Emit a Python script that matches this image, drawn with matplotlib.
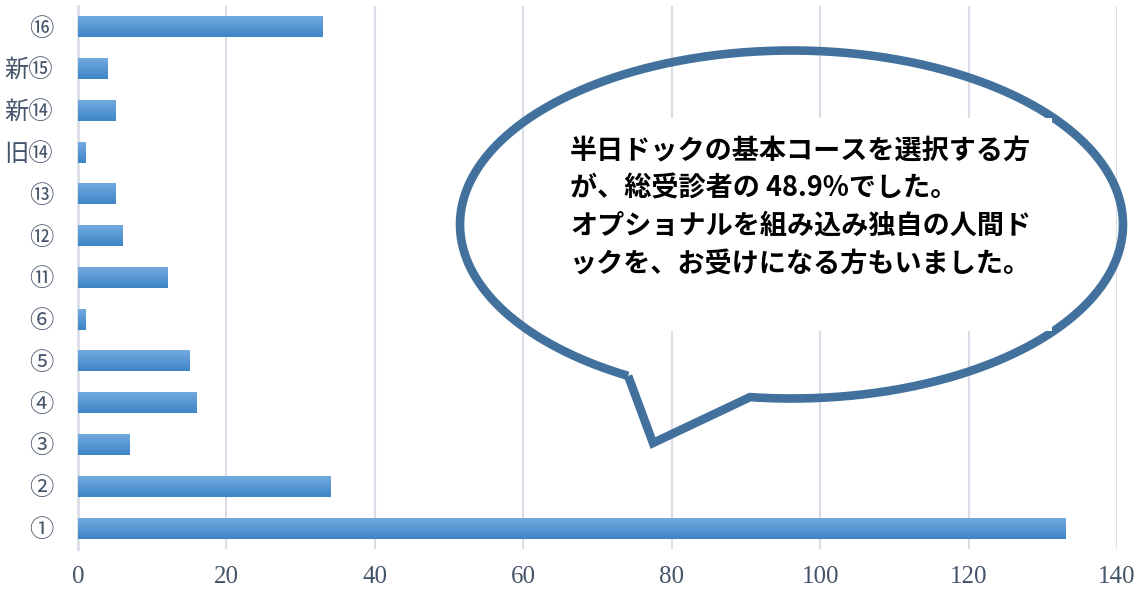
import matplotlib
matplotlib.use("Agg")
import matplotlib.pyplot as plt
import numpy as np
from matplotlib.patches import Rectangle
from matplotlib.colors import LinearSegmentedColormap

# ---- data ----
categories = ["①", "②", "③", "④", "⑤", "⑥", "⑪", "⑫", "⑬", "旧⑭", "新⑭", "新⑮", "⑯"]
values = [133, 34, 7, 16, 15, 1, 12, 6, 5, 1, 5, 4, 33]
xticks = [0, 20, 40, 60, 80, 100, 120, 140]
bubble_lines = [
    "半日ドックの基本コースを選択する方",
    "が、総受診者の 48.9%でした。",
    "オプショナルを組み込み独自の人間ド",
    "ックを、お受けになる方もいました。",
]

W, H = 1147, 593
fig = plt.figure(figsize=(W / 100, H / 100), dpi=100)
ax = fig.add_axes([78 / W, 1 - 549 / H, (1117 - 78) / W, (549 - 6) / H])

tick_color = "#44546A"
grid_color = "#D9DEE6"
label_font = ["Liberation Serif", "Noto Sans CJK JP", "DejaVu Sans"]

y = np.arange(len(categories))
bar_h = 0.5
ax.barh(y, values, height=bar_h, color="#5B9BD5", zorder=2)

# vertical gradient inside each bar
grad = np.linspace(0, 1, 64).reshape(-1, 1)
cmap = LinearSegmentedColormap.from_list("g", ["#3E85C6", "#72AAE0"])
for yi, v in zip(y, values):
    ax.imshow(grad, extent=(0, v, yi - bar_h / 2, yi + bar_h / 2), origin="lower",
              cmap=cmap, aspect="auto", zorder=3, interpolation="bilinear")

ax.set_xlim(0, 140)
ax.set_ylim(-0.5, len(categories) - 0.5)
ax.set_xticks(xticks)
ax.set_xticklabels([str(t) for t in xticks])
ax.set_yticks(y)
ax.set_yticklabels(categories)
ax.grid(axis="x", color=grid_color, linewidth=1.5, zorder=0)
ax.set_axisbelow(True)
for s in ["top", "right", "bottom"]:
    ax.spines[s].set_visible(False)
ax.spines["left"].set_color(grid_color)
ax.spines["left"].set_linewidth(2)
ax.tick_params(axis="both", length=0, colors=tick_color)
ax.tick_params(axis="y", pad=18)
ax.tick_params(axis="x", pad=12)
for lab in ax.get_xticklabels():
    lab.set_family(label_font)
    lab.set_fontsize(18)
    lab.set_color(tick_color)
for lab in ax.get_yticklabels():
    lab.set_family(label_font)
    lab.set_fontsize(17.5)
    lab.set_color(tick_color)

# ---- speech bubble overlay (pixel coordinates) ----
ov = fig.add_axes([0, 0, 1, 1], zorder=5)
ov.set_xlim(0, W)
ov.set_ylim(H, 0)
ov.axis("off")
ov.patch.set_alpha(0)

cx, cy, a, b = 791.5, 224.5, 331.5, 174.0
left_j = (628.0, 376.0)
tip = (653.0, 443.0)
right_j = (750.0, 397.0)
t0 = np.arctan2((left_j[1] - cy) / b, (left_j[0] - cx) / a)
t1 = np.arctan2((right_j[1] - cy) / b, (right_j[0] - cx) / a) + 2 * np.pi
t = np.linspace(t0, t1, 600)
px = list(cx + a * np.cos(t)) + [tip[0], cx + a * np.cos(t0)]
py = list(cy + b * np.sin(t)) + [tip[1], cy + b * np.sin(t0)]
ov.plot(px, py, color="#41719C", linewidth=6.2, solid_joinstyle="miter",
        solid_capstyle="butt", zorder=1)

ov.add_patch(Rectangle((540, 118), 1052 - 540, 331 - 118, facecolor="white",
                       edgecolor="none", zorder=2))
for i, line in enumerate(bubble_lines):
    ov.text(570, 150 + i * 38, line, fontsize=19.5, fontweight="bold",
            family=["Noto Sans CJK JP", "DejaVu Sans"], color="black",
            va="center", ha="left", zorder=3)

fig.savefig("out.png", dpi=100)
